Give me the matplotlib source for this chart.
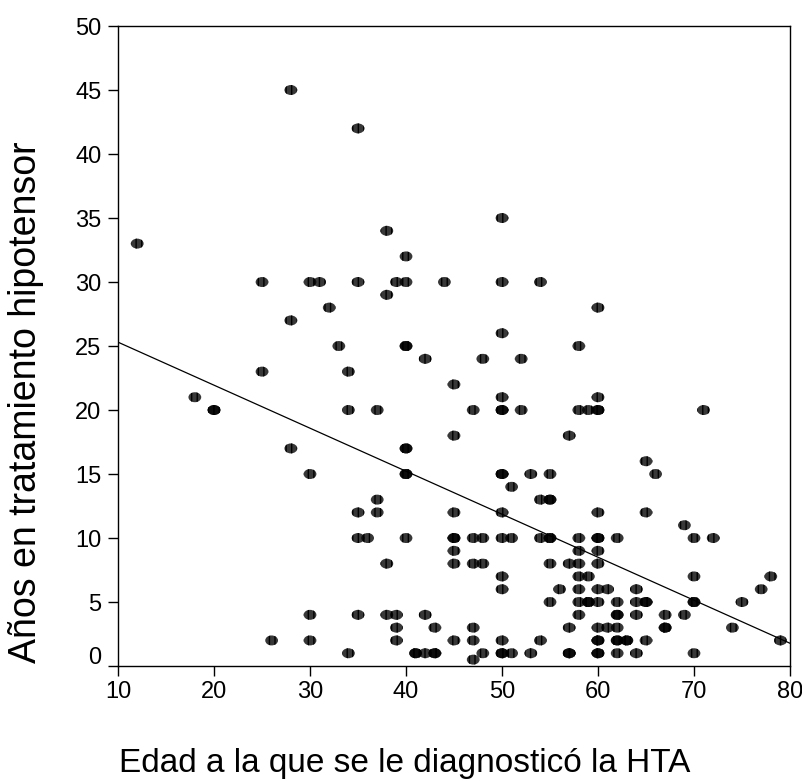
import numpy as np
import matplotlib
matplotlib.use("Agg")
import matplotlib.pyplot as plt
from matplotlib.path import Path
from matplotlib.transforms import ScaledTranslation

plt.rcParams['font.family'] = ['Liberation Sans', 'DejaVu Sans']

# edad al diagnóstico -> años en tratamiento (repetidos = casos coincidentes)
edad_x = [
    12, 18, 20, 20, 25, 25, 26, 28, 28, 28,
    30, 30, 30, 30, 31, 32, 33, 34, 34, 34,
    35, 35, 35, 35, 35, 36, 37, 37, 37, 38, 38, 38, 38,
    39, 39, 39, 39, 40, 40, 40, 40, 40, 40, 40, 40, 40,
    41, 41, 42, 42, 42, 43, 43, 43, 44,
    45, 45, 45, 45, 45, 45, 45, 45,
    47, 47, 47, 47, 47, 47, 48, 48, 48, 48,
    50, 50, 50, 50, 50, 50, 50, 50, 50, 50, 50, 50, 50, 50, 50,
    51, 51, 51, 52, 52, 53, 53, 54, 54, 54, 54,
    55, 55, 55, 55, 55, 55, 55, 56,
    57, 57, 57, 57, 57,
    58, 58, 58, 58, 58, 58, 58, 58, 58,
    59, 59, 59, 59,
    60, 60, 60, 60, 60, 60, 60, 60, 60, 60, 60, 60, 60, 60, 60, 60,
    61, 61, 62, 62, 62, 62, 62, 62, 62, 62, 63, 63,
    64, 64, 64, 64, 65, 65, 65, 65, 65, 66,
    67, 67, 67, 69, 69, 70, 70, 70, 70, 70, 71, 72, 74, 75, 77, 78, 79,
]
anios_y = [
    33, 21, 20, 20, 30, 23, 2, 45, 27, 17,
    30, 15, 4, 2, 30, 28, 25, 23, 20, 1,
    42, 30, 12, 10, 4, 10, 20, 13, 12, 34, 29, 8, 4,
    30, 4, 3, 2, 32, 30, 25, 25, 17, 17, 15, 15, 10,
    1, 1, 24, 4, 1, 3, 1, 1, 30,
    22, 18, 12, 10, 10, 9, 8, 2,
    20, 10, 8, 3, 2, 0.5, 24, 10, 8, 1,
    35, 30, 26, 21, 20, 20, 15, 15, 12, 10, 7, 6, 2, 1, 1,
    14, 10, 1, 24, 20, 15, 1, 30, 13, 10, 2,
    15, 13, 13, 10, 10, 8, 5, 6,
    18, 8, 3, 1, 1,
    25, 20, 10, 9, 8, 7, 6, 5, 4,
    20, 7, 5, 5,
    28, 21, 20, 20, 12, 10, 10, 9, 8, 6, 5, 3, 2, 2, 1, 1,
    6, 3, 10, 5, 4, 4, 3, 2, 2, 1, 2, 2,
    6, 5, 4, 1, 16, 12, 5, 5, 2, 15,
    4, 3, 3, 11, 4, 10, 7, 5, 5, 1, 20, 10, 3, 5, 6, 7, 2,
]

# recta de regresión
recta_a = 28.66
recta_b = -0.336

fig = plt.figure(figsize=(8.03, 7.81), dpi=100)
ax = fig.add_axes([0.147, 0.1472, 0.8368, 0.8195])

# marcador elíptico, más ancho que alto
circ = Path.unit_circle()
elipse = Path(circ.vertices * np.array([1.0, 0.78]), circ.codes)

sc = ax.scatter(edad_x, anios_y, marker=elipse, s=9.2 ** 2,
                facecolors=(0, 0, 0, 0.78), edgecolors='black',
                linewidths=0, hatch='|||', zorder=3)

xr = np.array([10, 80])
ax.plot(xr, recta_a + recta_b * xr, color='black', lw=0.9, zorder=2)

ax.set_xlim(10, 80)
ax.set_ylim(0, 50)
ax.set_xticks(range(10, 81, 10))
ax.set_yticks(range(0, 51, 5))
ax.tick_params(direction='out', length=7, width=1, labelsize=17)
ax.tick_params(axis='x', pad=4)
ax.tick_params(axis='y', pad=5)
for s in ax.spines.values():
    s.set_linewidth(1)

# la etiqueta del 0 va algo más arriba
off = ScaledTranslation(0, 11 / 100, fig.dpi_scale_trans)
lbl0 = ax.yaxis.get_major_ticks()[0].label1
lbl0.set_transform(lbl0.get_transform() + off)

fig.text(405 / 803, 1 - 772 / 781, 'Edad a la que se le diagnosticó la HTA',
         fontsize=24, ha='center', va='baseline')
fig.text(26 / 803, 1 - 402 / 781, 'Años en tratamiento hipotensor',
         fontsize=27, rotation=90, ha='center', va='center')

fig.savefig('out.png', dpi=100)
